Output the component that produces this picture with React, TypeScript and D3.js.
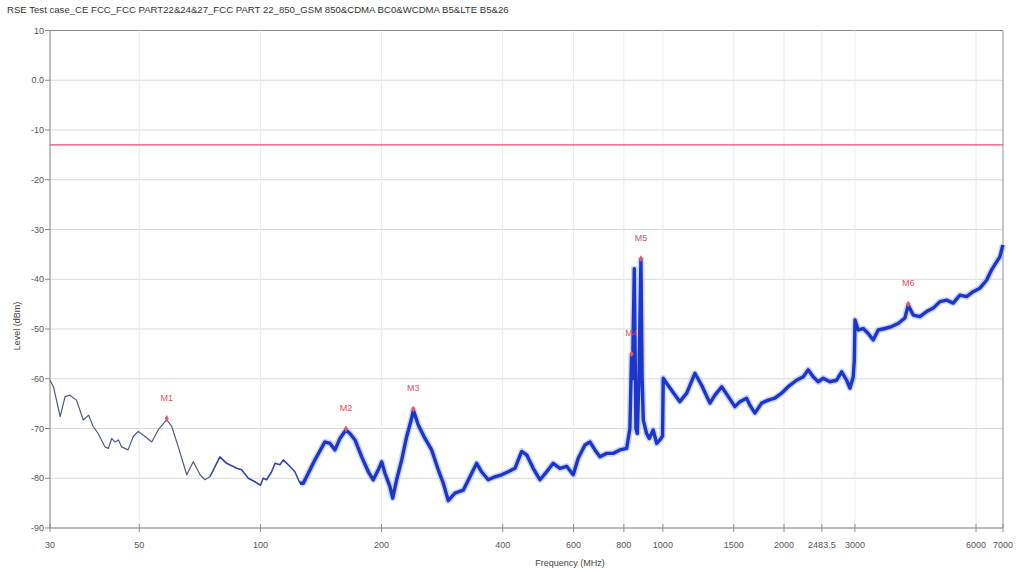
import React from "react";
import * as d3 from "d3";

const TITLE = "RSE Test case_CE FCC_FCC PART22&24&27_FCC PART 22_850_GSM 850&CDMA BC0&WCDMA B5&LTE B5&26";

const yTicks = [10, 0, -10, -20, -30, -40, -50, -60, -70, -80, -90];
const xTicks = [30, 50, 100, 200, 400, 600, 800, 1000, 1500, 2000, 2483.5, 3000, 6000, 7000];
const limitDbm = -13;

// Trace: frequency (MHz) and level (dBm)
const traceFreq = [
  30, 30.6, 31.8, 32.7, 33.6, 34.9, 36.3, 37.4, 38.4, 39.5, 41.1, 41.9, 42.7, 43.5, 44.4, 45.2, 46.9, 48.3, 49.7,
  51.7, 53.7, 55.7, 58.5, 60.2, 62.5, 65.6, 68.1, 70.8, 72.8, 74.9, 79.3, 82.4, 87.3, 89.8, 93.3, 96.9, 100,
  101.6, 103.6, 106.6, 108.7, 111.8, 114.0, 117.3, 121.8, 125.4, 127.8, 131.5, 136.6, 144.6, 148.9, 153.2, 157.6,
  163.1, 166.9, 171.8, 178.5, 185.4, 190.7, 196.3, 200.1, 203.9, 209.8, 213.1, 218.0, 224.4, 230.9, 237.6, 239.8,
  246.7, 256.4, 266.3, 276.6, 284.7, 292.9, 304.3, 319.1, 331.6, 344.5, 354.4, 368.1, 382.5, 397.4, 412.8, 429.0,
  445.7, 458.6, 476.2, 494.9, 514.2, 534.0, 554.9, 576.5, 598.7, 616.1, 640.2, 658.8, 677.8, 697.6, 724.8, 752.7,
  782.0, 812.7, 828, 836, 840, 849, 857, 864, 872, 882, 888, 894, 911, 925, 946, 965, 983, 998,
  1002, 1021.6, 1051, 1102, 1146, 1201, 1248, 1309, 1347, 1400, 1454, 1510, 1554, 1614, 1645, 1693, 1759, 1827,
  1898, 1972, 2048, 2148, 2233, 2297, 2363, 2432, 2503, 2600, 2702, 2781, 2861, 2916, 2972, 2990,
  3002, 3058, 3146, 3237, 3331, 3428, 3561, 3700, 3842, 3993, 4070, 4187, 4351, 4521, 4696, 4880, 5070, 5265,
  5470, 5683, 5902, 6133, 6373, 6557, 6748, 6875, 6995,
];
const traceLevel = [
  -60.3, -61.6, -67.6, -63.6, -63.3, -64.3, -68.3, -67.3, -69.6, -71, -73.7, -74, -72, -72.7, -72.3, -73.7, -74.3, -71.6, -70.6,
  -71.6, -72.7, -70.3, -68.2, -69.6, -73.7, -79.3, -76.7, -79.3, -80.3, -79.7, -75.7, -77, -78, -78.3, -80, -80.7, -81.4,
  -80, -80.3, -78.7, -77, -77.3, -76.3, -77.3, -78.7, -81, -81, -79, -76.3, -72.7, -73, -74.3, -72,
  -70.3, -71, -72.3, -75.7, -78.7, -80.3, -78.3, -76.7, -79, -81.7, -84, -80.3, -76.3, -71.6, -67.9, -66.3,
  -69.3, -72, -74.3, -78.3, -81, -84.5, -83, -82.4, -79.7, -77, -78.7, -80.3, -79.7, -79.3, -78.7, -78,
  -74.6, -75.3, -78, -80.3, -78.7, -77, -78, -77.6, -79.3, -76, -73.3, -72.7, -74.3, -75.7, -75, -75,
  -74.3, -74, -70, -55.2, -60, -37.9, -70, -71, -60, -36.1, -60, -68.3, -71, -72, -70.3, -73, -72.3, -71.5,
  -59.9, -60.9, -62.3, -64.6, -62.9, -58.9, -61.3, -64.9, -63.3, -61.6, -63.6, -65.6, -64.6, -63.9, -65.3, -66.9, -64.9, -64.3,
  -63.9, -62.9, -61.6, -60.3, -59.6, -58.2, -59.6, -60.6, -59.9, -60.6, -60.3, -58.6, -60.3, -61.9, -59.6, -56.2,
  -48.2, -50.2, -49.9, -50.9, -52.2, -50.2, -49.9, -49.5, -48.9, -47.8, -45.2, -47.2, -47.5, -46.5, -45.8, -44.5, -44.2, -44.8,
  -43.2, -43.5, -42.5, -41.8, -40.2, -38.1, -36.5, -35.5, -33.1,
];

const markerNames = ["M1", "M2", "M3", "M4", "M5", "M6"];
const markerFreq = [58.5, 163.1, 239.8, 836, 882, 4070];
const markerLevel = [-68.2, -70.3, -66.3, -55.2, -36.1, -45.2];

const W = 1017;
const H = 574;
const left = 50;
const right = 1003;
const top = 30.5;
const bottom = 528;

export default function App() {
  const x = d3.scaleLog().domain([30, 7000]).range([left, right]);
  const y = d3.scaleLinear().domain([-90, 10]).range([bottom, top]);
  const pts = traceFreq.map((f, i) => [f, traceLevel[i]] as [number, number]);
  const line = d3
    .line<[number, number]>()
    .x((d) => x(d[0]))
    .y((d) => y(d[1]));

  const seg = (lo: number, hi: number) => pts.filter((p) => p[0] >= lo && p[0] <= hi);
  const thinPts = seg(30, 75);
  const midPts = seg(74.9, 126);
  const thickPts = seg(125.4, 7000);

  const font = "'Liberation Sans', Arial, sans-serif";

  return (
    <svg width={W} height={H} style={{ position: "absolute", left: 0, top: 0, background: "#fff" }} fontFamily={font}>
      <rect x={0} y={0} width={W} height={H} fill="#fff" />
      <text x={7} y={13} fontSize={9.6} fill="#333">{TITLE}</text>

      {/* horizontal grid */}
      {yTicks.map((t) => (
        <line key={"hy" + t} x1={left} x2={right} y1={y(t)} y2={y(t)} stroke={t === 10 ? "#8a8a8a" : "#d9d9d9"} strokeWidth={1} />
      ))}
      {/* vertical grid */}
      {xTicks.map((t) => (
        <line key={"vx" + t} x1={x(t)} x2={x(t)} y1={top} y2={bottom} stroke="#ececec" strokeWidth={1} />
      ))}
      {/* frame */}
      <line x1={right} x2={right} y1={top} y2={bottom} stroke="#9a9a9a" />
      <line x1={left} x2={left} y1={top} y2={bottom} stroke="#8a8a8a" />
      <line x1={left} x2={right} y1={bottom} y2={bottom} stroke="#8a8a8a" />

      {/* y ticks */}
      {yTicks.map((t) => (
        <g key={"yt" + t}>
          <line x1={left - 5} x2={left} y1={y(t)} y2={y(t)} stroke="#8a8a8a" />
          <text x={left - 6} y={y(t) + 3} fontSize={9} fill="#555" textAnchor="end">
            {t === 0 ? "0.0" : String(t)}
          </text>
        </g>
      ))}
      {/* x ticks */}
      {xTicks.map((t) => (
        <g key={"xt" + t}>
          <line x1={x(t)} x2={x(t)} y1={bottom - 4} y2={bottom + 4} stroke="#8a8a8a" />
          <text x={x(t)} y={bottom + 20} fontSize={9} fill="#555" textAnchor="middle">
            {String(t)}
          </text>
        </g>
      ))}
      <text x={570} y={566} fontSize={9} fill="#444" textAnchor="middle">Frequency (MHz)</text>
      <text transform={`translate(20,${326}) rotate(-90)`} fontSize={9} fill="#444" textAnchor="middle">Level (dBm)</text>

      {/* limit line */}
      <line x1={left} x2={right} y1={y(limitDbm)} y2={y(limitDbm)} stroke="#e2506e" strokeWidth={1.2} />

      {/* trace */}
      <path d={line(thinPts) || ""} fill="none" stroke="#4e5a84" strokeWidth={1.2} strokeLinejoin="round" />
      <path d={line(midPts) || ""} fill="none" stroke="#3446a8" strokeWidth={1.6} strokeLinejoin="round" />
      <path d={line(thickPts) || ""} fill="none" stroke="#8ea3ee" strokeWidth={6.5} strokeOpacity={0.45} strokeLinejoin="round" />
      <path d={line(thickPts) || ""} fill="none" stroke="#1b36c9" strokeWidth={3.4} strokeLinejoin="round" />

      {/* markers */}
      {markerNames.map((m, i) => (
        <g key={m}>
          <path
            d={d3.symbol().type(d3.symbolDiamond).size(14)() || ""}
            transform={`translate(${x(markerFreq[i])},${y(markerLevel[i]) - 1})`}
            fill="#e05a6a"
          />
          <text x={x(markerFreq[i])} y={y(markerLevel[i]) - 19} fontSize={9} fill="#e0505e" textAnchor="middle">
            {m}
          </text>
        </g>
      ))}
    </svg>
  );
}
